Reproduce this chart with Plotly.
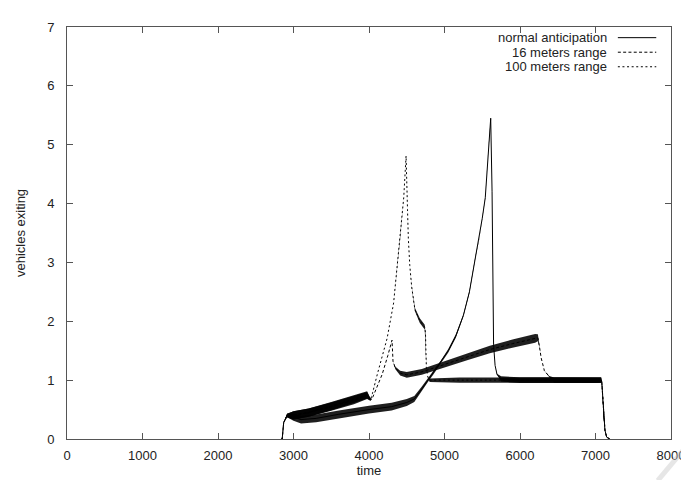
import plotly.graph_objects as go

# ---------------- data ----------------
# normal anticipation
t_norm = [2840, 2850, 2870, 2915, 3000, 3100, 3300, 3600, 4000, 4300, 4500, 4600,
          4700, 4780, 4850, 4950, 5050, 5150, 5250, 5330, 5410, 5460, 5500, 5540,
          5580, 5600, 5612, 5630, 5650, 5670, 5695, 5750, 6000, 6500, 7000, 7075,
          7083, 7095, 7105, 7125, 7148, 7190]
v_norm = [0, 0, 0.28, 0.40, 0.37, 0.33, 0.35, 0.42, 0.50, 0.55, 0.62, 0.68,
          0.85, 1.00, 1.12, 1.30, 1.50, 1.75, 2.10, 2.50, 3.10, 3.40, 3.75, 4.10,
          4.90, 5.20, 5.45, 4.20, 1.60, 1.25, 1.10, 1.02, 1.00, 1.00, 1.00, 1.00,
          0.97, 0.70, 0.39, 0.15, 0.03, 0]
a_norm = [0, 0, 0, 0.03, 0.06, 0.065, 0.065, 0.065, 0.065, 0.065, 0.06, 0.05,
          0.04, 0.03, 0.03, 0.03, 0.03, 0.03, 0.02, 0.02, 0.015, 0.01, 0.01, 0.01,
          0.01, 0.01, 0, 0, 0, 0, 0.01, 0.045, 0.05, 0.05, 0.05, 0.045,
          0, 0, 0, 0, 0, 0]

# 16 meters range
t_16 = [2840, 2850, 2870, 2915, 3000, 3200, 3500, 3800, 3975, 4020, 4040, 4175,
        4250, 4305, 4318, 4347, 4413, 4500, 4700, 5000, 5300, 5600, 5900, 6200,
        6237, 6260, 6280, 6323, 6388, 6450, 6700, 7000, 7075, 7083, 7095, 7105,
        7125, 7148, 7190]
v_16 = [0, 0, 0.28, 0.40, 0.40, 0.45, 0.55, 0.66, 0.74, 0.67, 0.68, 1.10,
        1.42, 1.68, 1.32, 1.21, 1.12, 1.09, 1.14, 1.27, 1.40, 1.52, 1.62, 1.71,
        1.72, 1.55, 1.38, 1.16, 1.06, 1.00, 1.00, 1.00, 1.00, 0.97, 0.70, 0.39,
        0.15, 0.03, 0]
a_16 = [0, 0, 0, 0.03, 0.07, 0.07, 0.07, 0.07, 0.06, 0.02, 0, 0,
        0, 0, 0, 0.02, 0.04, 0.05, 0.05, 0.055, 0.06, 0.065, 0.07, 0.075,
        0.06, 0, 0, 0, 0.01, 0.045, 0.05, 0.05, 0.045, 0, 0, 0,
        0, 0, 0]

# 100 meters range
t_100 = [2840, 2850, 2870, 2915, 3000, 3200, 3500, 3800, 3975, 4020, 4045, 4110,
         4240, 4326, 4413, 4460, 4491, 4500, 4510, 4521, 4540, 4565, 4608, 4673,
         4738, 4748, 4760, 4780, 4803, 5200, 6000, 7000, 7075, 7083, 7095, 7105,
         7125, 7148, 7190]
v_100 = [0, 0, 0.28, 0.40, 0.40, 0.45, 0.56, 0.68, 0.75, 0.67, 0.77, 1.10,
         1.71, 2.31, 3.41, 4.10, 4.81, 4.50, 3.90, 3.41, 2.95, 2.59, 2.20, 2.01,
         1.90, 1.80, 1.21, 1.05, 1.00, 1.00, 1.00, 1.00, 1.00, 0.97, 0.70, 0.39,
         0.15, 0.03, 0]
a_100 = [0, 0, 0, 0.03, 0.07, 0.07, 0.07, 0.07, 0.06, 0.02, 0, 0,
         0, 0, 0, 0, 0, 0, 0, 0, 0, 0.01, 0.03, 0.04,
         0.04, 0.02, 0, 0, 0.03, 0.045, 0.045, 0.045, 0.045, 0, 0, 0,
         0, 0, 0]

x_ticks = [0, 1000, 2000, 3000, 4000, 5000, 6000, 7000, 8000]
y_ticks = [0, 1, 2, 3, 4, 5, 6, 7]

series = [
    ("normal anticipation", t_norm, v_norm, a_norm, "solid"),
    ("16 meters range", t_16, v_16, a_16, "3px,2.3px"),
    ("100 meters range", t_100, v_100, a_100, "2px,2.6px"),
]

FONT = "Liberation Sans, Arial, Helvetica, sans-serif"
AX = "#555555"
TXT = "#222222"
FS = 13

fig = go.Figure()

# oscillation bands (envelope of the noisy signal)
for name, t, v, a, dash in series:
    up = [vi + ai for vi, ai in zip(v, a)]
    lo = [max(vi - ai, 0) for vi, ai in zip(v, a)]
    fig.add_trace(go.Scatter(
        x=t + t[::-1], y=up + lo[::-1], mode="lines", fill="toself",
        fillcolor="rgba(0,0,0,0.88)", line=dict(width=0),
        hoverinfo="skip", showlegend=False))

# the lines themselves
for name, t, v, a, dash in series:
    fig.add_trace(go.Scatter(
        x=t, y=v, mode="lines", name=name,
        line=dict(color="black", width=1, dash=dash), showlegend=False))

# gnuplot-style key: right-aligned text, sample to the right
key_y = [0.9741, 0.9388, 0.9035]
for (name, t, v, a, dash), ky in zip(series, key_y):
    fig.add_annotation(x=0.8958, y=ky, xref="paper", yref="paper",
                       text=name, showarrow=False, xanchor="right",
                       yanchor="middle", borderpad=0,
                       font=dict(family=FONT, size=FS, color=TXT))
    fig.add_shape(type="line", xref="paper", yref="paper",
                  x0=0.912, x1=0.9756, y0=ky, y1=ky,
                  line=dict(color="black", width=1, dash=dash))

# faint page-curl streak in the corner
fig.add_shape(type="line", xref="paper", yref="paper",
              x0=0.978, y0=-0.101, x1=1.03, y1=-0.01,
              line=dict(color="rgba(200,200,200,0.45)", width=5))

fig.update_layout(
    width=689, height=480,
    margin=dict(l=58, r=17, t=12, b=43),
    paper_bgcolor="white", plot_bgcolor="white",
    font=dict(family=FONT, size=FS, color=TXT),
    showlegend=False,
)
fig.update_xaxes(
    range=[0, 8000], tickvals=x_ticks, ticktext=[str(v) for v in x_ticks],
    showgrid=False, zeroline=False, showline=True, linecolor=AX, linewidth=1,
    mirror="ticks", ticks="inside", ticklen=6, tickcolor=AX,
    ticklabelstandoff=4,
    title=dict(text="time", standoff=4, font=dict(family=FONT, size=FS, color=TXT)),
)
fig.update_yaxes(
    range=[0, 7], tickvals=y_ticks, ticktext=[str(v) for v in y_ticks],
    showgrid=False, zeroline=False, showline=True, linecolor=AX, linewidth=1,
    mirror="ticks", ticks="inside", ticklen=6, tickcolor=AX,
    ticklabelstandoff=9,
    title=dict(text="vehicles exiting", standoff=18,
               font=dict(family=FONT, size=FS, color=TXT)),
)

fig.write_html("out.html")
